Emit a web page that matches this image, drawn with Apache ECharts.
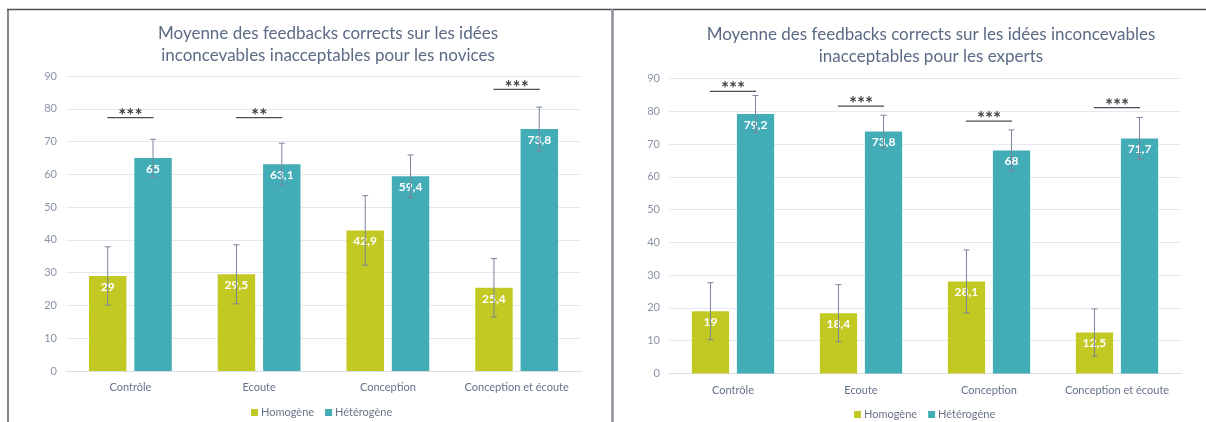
<!DOCTYPE html>
<html><head><meta charset="utf-8">
<script src="https://cdn.jsdelivr.net/npm/echarts@6/dist/echarts.min.js"></script>
<style>html,body{margin:0;padding:0;background:#fff;}#c{width:1206px;height:422px;}</style>
</head><body><div id="c"></div>
<script>
const categories = ['Contrôle', 'Ecoute', 'Conception', 'Conception et écoute'];
const seriesNames = ['Homogène', 'Hétérogène'];
const yTicks = [0, 10, 20, 30, 40, 50, 60, 70, 80, 90];

// Novices
const novHom = [29, 29.5, 42.9, 25.4];
const novHet = [65, 63.1, 59.4, 73.8];
const novHomErr = [8.9, 9.0, 10.6, 8.9];
const novHetErr = [5.7, 6.4, 6.5, 6.7];
const novSigLevel = [77.3, 77.3, null, 85.9];
const novSigText = ['***', '**', '', '***'];

// Experts
const expHom = [19, 18.4, 28.1, 12.5];
const expHet = [79.2, 73.8, 68, 71.7];
const expHomErr = [8.7, 8.7, 9.6, 7.2];
const expHetErr = [5.6, 5.0, 6.3, 6.4];
const expSigLevel = [86.1, 81.6, 77.0, 81.1];
const expSigText = ['***', '***', '***', '***'];

const titles = [
  'Moyenne des feedbacks corrects sur les idées\ninconcevables inacceptables pour les novices',
  'Moyenne des feedbacks corrects sur les idées inconcevables\ninacceptables pour les experts'
];

const COL_HOM = '#c3c923';
const COL_HET = '#42adb7';
const FONT = 'Lato, "Open Sans", sans-serif';
const BW = 0.291;           // bar width as fraction of band
const GAP = 0.21;           // gap relative to bar width
const OFF = BW * (1 + GAP) / 2;

function fmt(v) { return String(v).replace('.', ','); }

function barSeries(name, values, color, gi) {
  return {
    type: 'bar', name: name, xAxisIndex: gi, yAxisIndex: gi,
    data: values, barWidth: (BW * 100) + '%', barGap: (GAP * 100) + '%',
    itemStyle: { color: color },
    label: { show: true, position: 'insideTop', distance: 5, color: '#fff',
      fontFamily: FONT, fontWeight: 'bold', fontSize: 12,
      formatter: p => fmt(p.value) },
    z: 2
  };
}

function errSeries(values, errs, sign, gi) {
  return {
    type: 'custom', xAxisIndex: gi, yAxisIndex: gi, silent: true, z: 3,
    data: values.map((v, i) => [i, v - errs[i], v + errs[i]]),
    encode: { x: 0, y: [1, 2] },
    renderItem: function (params, api) {
      const band = api.size([1, 0])[0];
      const lo = api.coord([api.value(0), api.value(1)]);
      const hi = api.coord([api.value(0), api.value(2)]);
      const x = lo[0] + sign * band * OFF;
      const cap = 3;
      const st = { stroke: '#7b8599', lineWidth: 1 };
      return { type: 'group', children: [
        { type: 'line', shape: { x1: x, y1: lo[1], x2: x, y2: hi[1] }, style: st },
        { type: 'line', shape: { x1: x - cap, y1: lo[1], x2: x + cap, y2: lo[1] }, style: st },
        { type: 'line', shape: { x1: x - cap, y1: hi[1], x2: x + cap, y2: hi[1] }, style: st }
      ]};
    }
  };
}

function sigSeries(levels, texts, gi) {
  const data = [];
  levels.forEach((l, i) => { if (l != null) data.push([i, l, texts[i]]); });
  return {
    type: 'custom', xAxisIndex: gi, yAxisIndex: gi, silent: true, z: 4,
    data: data, encode: { x: 0, y: 1 },
    renderItem: function (params, api) {
      const band = api.size([1, 0])[0];
      const p = api.coord([api.value(0), api.value(1)]);
      const hw = band * 0.18;
      return { type: 'group', children: [
        { type: 'line', shape: { x1: p[0] - hw, y1: p[1], x2: p[0] + hw, y2: p[1] },
          style: { stroke: '#4a4d55', lineWidth: 1.3 } },
        { type: 'text', style: { text: data[params.dataIndex][2], x: p[0], y: p[1] - 2,
          align: 'center', verticalAlign: 'middle', fill: '#3c3f46',
          font: 'bold 19px ' + FONT } }
      ]};
    }
  };
}

const grids = [
  { left: 66, top: 76, width: 515, height: 295 },
  { left: 669, top: 78.5, width: 512, height: 295 }
];

const chart = echarts.init(document.getElementById('c'), null, { renderer: 'canvas' });
const option = {
  animation: false,
  backgroundColor: '#fff',
  title: [
    { text: titles[0], left: 323, top: 18, textAlign: 'center',
      textStyle: { fontFamily: FONT, fontWeight: 'normal', fontSize: 17, color: '#5b6a85', lineHeight: 22 } },
    { text: titles[1], left: 926, top: 19, textAlign: 'center',
      textStyle: { fontFamily: FONT, fontWeight: 'normal', fontSize: 17, color: '#5b6a85', lineHeight: 22 } }
  ],
  legend: [
    { data: seriesNames, left: 246, top: 402, itemWidth: 7, itemHeight: 7, itemGap: 11,
      icon: 'rect', textStyle: { fontFamily: FONT, fontSize: 11, color: '#6a7488', padding: [0, 0, 0, -2] } },
    { data: seriesNames, left: 849, top: 404, itemWidth: 7, itemHeight: 7, itemGap: 11,
      icon: 'rect', textStyle: { fontFamily: FONT, fontSize: 11, color: '#6a7488', padding: [0, 0, 0, -2] } }
  ],
  grid: grids,
  xAxis: [0, 1].map(gi => ({
    type: 'category', gridIndex: gi, data: categories,
    axisLine: { lineStyle: { color: '#dcdee6' } }, axisTick: { show: false },
    axisLabel: { interval: 0, fontFamily: FONT, fontSize: 11, color: '#66728a', margin: 11 }
  })),
  yAxis: [0, 1].map(gi => ({
    type: 'value', gridIndex: gi, min: yTicks[0], max: yTicks[yTicks.length - 1], interval: 10,
    axisLine: { show: false }, axisTick: { show: false },
    splitLine: { lineStyle: { color: '#e6e8ef' } },
    axisLabel: { fontFamily: FONT, fontSize: 11, color: '#8a93a5', margin: 9 }
  })),
  series: [
    barSeries(seriesNames[0], novHom, COL_HOM, 0),
    barSeries(seriesNames[1], novHet, COL_HET, 0),
    errSeries(novHom, novHomErr, -1, 0),
    errSeries(novHet, novHetErr, 1, 0),
    sigSeries(novSigLevel, novSigText, 0),
    barSeries(seriesNames[0], expHom, COL_HOM, 1),
    barSeries(seriesNames[1], expHet, COL_HET, 1),
    errSeries(expHom, expHomErr, -1, 1),
    errSeries(expHet, expHetErr, 1, 1),
    sigSeries(expSigLevel, expSigText, 1)
  ],
  graphic: [
    { type: 'line', shape: { x1: 7, y1: 9.5, x2: 1206, y2: 9.5 }, style: { stroke: '#4d5057', lineWidth: 1.5 }, silent: true },
    { type: 'line', shape: { x1: 8, y1: 9, x2: 8, y2: 422 }, style: { stroke: '#5a5d63', lineWidth: 1.5 }, silent: true },
    { type: 'line', shape: { x1: 612.5, y1: 9, x2: 612.5, y2: 422 }, style: { stroke: '#8c8f96', lineWidth: 2.5 }, silent: true }
  ]
};
chart.setOption(option);
</script>
</body></html>
